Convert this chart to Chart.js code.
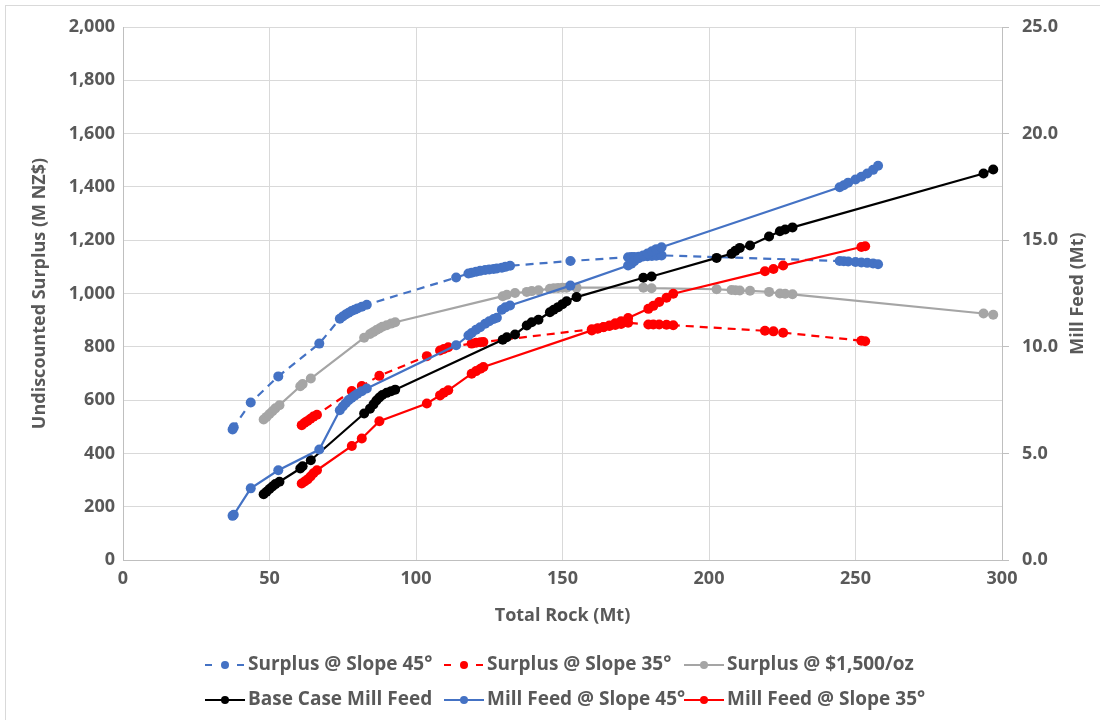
<!DOCTYPE html>
<html>
<head>
<meta charset="utf-8">
<script src="https://cdn.jsdelivr.net/npm/chart.js@4.4.1/dist/chart.umd.min.js"></script>
<style>
  html, body { margin: 0; padding: 0; background: #fff; }
  .ctn_chart { position: relative; width: 1100px; height: 720px; }
  .frame { position: absolute; left: 5px; top: 5px; width: 1100px; height: 720px; border: 1px solid #D9D9D9; box-sizing: border-box; pointer-events: none; }
</style>
</head>
<body>
<div class="ctn_chart">
  <canvas id="myChart" width="1100" height="720"></canvas>
  <div class="frame"></div>
</div>
<script>
// ---- data ----
const rock45 = [37.4, 37.8, 43.6, 53.0, 67.0, 74.0, 75.0, 76.0, 77.0, 78.0, 79.0, 80.0, 81.5, 83.2,
  113.7, 117.9, 119.0, 120.5, 121.9, 123.6, 125.0, 126.5, 127.6, 129.3, 130.5, 132.1, 152.7,
  172.4, 173.5, 174.5, 176.0, 177.5, 179.0, 180.5, 182.0, 183.8,
  244.6, 246.0, 247.5, 250.0, 252.0, 254.0, 256.0, 257.7];
const surplus45 = [490, 498, 591, 689, 812, 905, 914, 921, 928, 934, 939, 944, 950, 958,
  1060, 1075, 1078, 1082, 1085, 1088, 1090, 1092, 1094, 1097, 1100, 1104, 1122,
  1136, 1137, 1137, 1138, 1139, 1140, 1141, 1142, 1143,
  1122, 1121, 1120, 1118, 1116, 1115, 1113, 1110];
const feed45 = [2.07, 2.12, 3.36, 4.21, 5.18, 7.02, 7.2, 7.35, 7.5, 7.6, 7.7, 7.8, 7.92, 8.04,
  10.07, 10.53, 10.65, 10.8, 10.92, 11.08, 11.2, 11.3, 11.36, 11.74, 11.85, 11.94, 12.87,
  13.81, 13.9, 14.02, 14.15, 14.28, 14.38, 14.48, 14.58, 14.67,
  17.48, 17.58, 17.7, 17.85, 17.98, 18.13, 18.3, 18.49];

const rock35 = [61.0, 62.0, 63.0, 64.0, 65.0, 66.2, 78.1, 81.5, 87.5, 103.7, 108.2, 109.5, 111.0,
  119.0, 120.5, 122.0, 123.0, 160.0, 162.0, 164.0, 166.0, 168.0, 170.0, 172.4,
  179.3, 181.0, 183.0, 185.5, 187.8, 219.1, 222.0, 225.3, 252.0, 253.3];
const surplus35 = [506, 515, 522, 530, 538, 545, 634, 653, 691, 765, 786, 792, 798,
  812, 815, 817, 818, 866, 870, 874, 878, 882, 886, 890,
  884, 884, 884, 883, 881, 860, 858, 853, 823, 821];
const feed35 = [3.59, 3.68, 3.78, 3.92, 4.07, 4.21, 5.35, 5.7, 6.51, 7.34, 7.72, 7.85, 7.96,
  8.74, 8.86, 8.97, 9.05, 10.77, 10.85, 10.92, 11.0, 11.1, 11.2, 11.35,
  11.78, 11.92, 12.1, 12.3, 12.49, 13.54, 13.65, 13.81, 14.68, 14.72];

const rockBase = [48.0, 49.0, 50.0, 51.0, 52.0, 53.4, 60.5, 61.3, 64.1, 82.3, 84.3, 85.5, 86.5,
  87.5, 88.5, 90.0, 91.5, 92.9, 129.6, 131.0, 133.8, 137.8, 139.5, 141.8, 145.7, 147.0,
  148.5, 150.0, 151.4, 154.8, 177.6, 180.4, 202.6, 207.7, 209.0, 210.5, 214.0, 220.5,
  224.2, 226.0, 228.5, 293.7, 297.0];
const surplus1500 = [527, 537, 548, 558, 569, 581, 652, 660, 681, 834, 848, 856, 863,
  869, 875, 881, 887, 892, 990, 995, 1002, 1006, 1009, 1012, 1018, 1020,
  1021, 1022, 1022, 1022, 1022, 1020, 1016, 1013, 1012, 1011, 1010, 1006,
  1000, 999, 997, 925, 920];
const feedBase = [3.08, 3.2, 3.33, 3.45, 3.56, 3.67, 4.29, 4.4, 4.68, 6.87, 7.1, 7.3, 7.48,
  7.62, 7.74, 7.84, 7.92, 7.99, 10.33, 10.45, 10.58, 11.0, 11.15, 11.27, 11.62, 11.74,
  11.86, 12.0, 12.14, 12.33, 13.24, 13.3, 14.17, 14.36, 14.5, 14.64, 14.75, 15.17,
  15.42, 15.5, 15.6, 18.13, 18.32];

const seriesNames = ['Surplus @ Slope 45°', 'Surplus @ Slope 35°', 'Surplus @ $1,500/oz',
  'Base Case Mill Feed', 'Mill Feed @ Slope 45°', 'Mill Feed @ Slope 35°'];

// ---- helpers ----
const textColor = '#595959';
const fontFam = "'Open Sans', 'Noto Sans', sans-serif";

function pts(xs, ys) {
  return xs.map(function (x, i) { return { x: x, y: ys[i] }; });
}

function makeSet(label, xs, ys, color, axis, dashed, order) {
  return {
    label: label,
    data: pts(xs, ys),
    yAxisID: axis,
    showLine: true,
    borderColor: color,
    backgroundColor: color,
    borderWidth: 2.2,
    borderDash: dashed ? [8, 6] : [],
    pointRadius: 5,
    pointHoverRadius: 5,
    pointBorderWidth: 0,
    order: order,
  };
}

// legend laid out like the excel one (3 columns, 2 rows)
const legendCols = [205, 444, 684];
const legendRows = [665, 700];

const gridLegend = {
  id: 'gridLegend',
  afterDraw(chart) {
    const ctx = chart.ctx;
    ctx.save();
    chart.data.datasets.forEach(function (ds, i) {
      const x = legendCols[i % 3];
      const y = legendRows[Math.floor(i / 3)];
      ctx.strokeStyle = ds.borderColor;
      ctx.fillStyle = ds.borderColor;
      ctx.lineWidth = 2.2;
      ctx.beginPath();
      if (ds.borderDash.length) {
        ctx.moveTo(x, y); ctx.lineTo(x + 7, y);
        ctx.moveTo(x + 32, y); ctx.lineTo(x + 39, y);
      } else {
        ctx.moveTo(x, y); ctx.lineTo(x + 40, y);
      }
      ctx.stroke();
      ctx.beginPath();
      ctx.arc(x + 20, y, 4, 0, Math.PI * 2);
      ctx.fill();
      ctx.fillStyle = textColor;
      ctx.font = 'bold 19px ' + fontFam;
      ctx.textBaseline = 'middle';
      ctx.textAlign = 'left';
      ctx.fillText(ds.label, x + 43, y);
    });
    ctx.restore();
  }
};

// right axis title reads bottom-to-top like the left one
const rightTitle = {
  id: 'rightTitle',
  afterDraw(chart) {
    const ctx = chart.ctx;
    const area = chart.chartArea;
    ctx.save();
    ctx.translate(1078, (area.top + area.bottom) / 2);
    ctx.rotate(-Math.PI / 2);
    ctx.fillStyle = textColor;
    ctx.font = 'bold 18px ' + fontFam;
    ctx.textAlign = 'center';
    ctx.textBaseline = 'middle';
    ctx.fillText('Mill Feed (Mt)', 0, 0);
    ctx.restore();
  }
};

const data = {
  datasets: [
    makeSet(seriesNames[0], rock45, surplus45, '#4472C4', 'y', true, 6),
    makeSet(seriesNames[1], rock35, surplus35, '#FF0000', 'y', true, 5),
    makeSet(seriesNames[2], rockBase, surplus1500, '#A5A5A5', 'y', false, 4),
    makeSet(seriesNames[3], rockBase, feedBase, '#000000', 'y1', false, 3),
    makeSet(seriesNames[4], rock45, feed45, '#4472C4', 'y1', false, 2),
    makeSet(seriesNames[5], rock35, feed35, '#FF0000', 'y1', false, 1),
  ]
};

const tickFont = { family: fontFam, size: 18, weight: 'bold' };

const config = {
  type: 'scatter',
  data: data,
  plugins: [gridLegend, rightTitle],
  options: {
    responsive: false,
    animation: false,
    layout: { padding: { top: 27, bottom: 90, left: 0, right: 0 } },
    plugins: {
      legend: { display: false },
      tooltip: { enabled: false },
    },
    scales: {
      x: {
        type: 'linear',
        min: 0, max: 300,
        ticks: { stepSize: 50, color: textColor, font: tickFont, padding: 8, maxRotation: 0 },
        grid: { color: '#D9D9D9', drawTicks: false },
        border: { color: '#BFBFBF' },
        title: { display: true, text: 'Total Rock (Mt)', color: textColor,
          font: { family: fontFam, size: 18, weight: 'bold' }, padding: { top: 0, bottom: 3 } },
        afterFit: function (scale) { scale.height = 70; },
      },
      y: {
        position: 'left',
        min: 0, max: 2000,
        ticks: { stepSize: 200, color: textColor, font: tickFont, padding: 8 },
        grid: { color: '#D9D9D9', drawTicks: false },
        border: { color: '#BFBFBF' },
        title: { display: true, text: 'Undiscounted Surplus (M NZ$)', color: textColor,
          font: { family: fontFam, size: 18, weight: 'bold' }, padding: { top: 29, bottom: 0 } },
        afterFit: function (scale) { scale.width = 123; },
      },
      y1: {
        position: 'right',
        min: 0, max: 25,
        ticks: { stepSize: 5, color: textColor, font: tickFont, padding: 13,
          callback: function (v) { return v.toFixed(1); } },
        grid: { drawOnChartArea: false, drawTicks: true, tickLength: 7, color: '#BFBFBF' },
        border: { color: '#BFBFBF' },
        title: { display: false },
        afterFit: function (scale) { scale.width = 98; },
      },
    },
  },
};

const myChart = new Chart(document.getElementById('myChart'), config);
</script>
</body>
</html>
